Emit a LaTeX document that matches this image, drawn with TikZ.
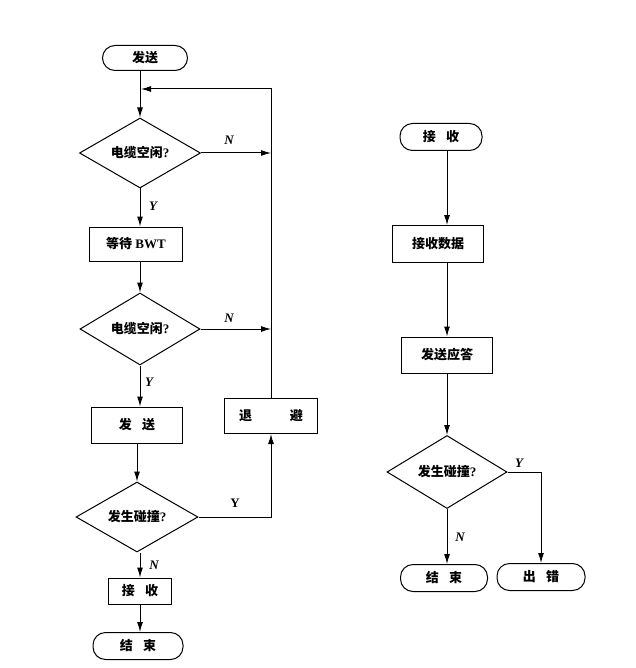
\documentclass[tikz,border=0pt]{standalone}
\usepackage{fontspec}
\setmainfont{Liberation Serif}
\newfontfamily\cjk{Noto Sans CJK SC}
\usetikzlibrary{shapes.geometric,arrows.meta}
\newcommand{\zh}[1]{{\cjk\bfseries #1}}
\begin{document}
\begin{tikzpicture}[x=1pt,y=-1pt,
  every node/.style={font=\fontsize{13}{15}\selectfont\bfseries},
  term/.style={draw,line width=1pt,rounded corners=12.5pt,inner sep=0pt},
  proc/.style={draw,line width=1pt,inner sep=0pt},
  dec/.style={draw,line width=1pt,diamond,aspect=1.7,inner sep=0pt},
  flow/.style={line width=1pt,-{Latex[length=10pt,width=6pt]}},
  lab/.style={font=\fontsize{13}{15}\selectfont\bfseries\itshape,inner sep=0pt},
  labu/.style={font=\fontsize{13}{15}\selectfont\bfseries,inner sep=0pt}]
\useasboundingbox (0,0) rectangle (635,668);
% left column
\node[term,minimum width=85pt,minimum height=25pt] (sstart) at (145,58) {\zh{发送}};
\node[dec,minimum width=121pt,minimum height=70pt] (d1) at (140,153) {\zh{电缆空闲}?};
\node[proc,minimum width=93pt,minimum height=34pt] (wait) at (136,244) {\zh{等待} BWT};
\node[dec,minimum width=120pt,minimum height=72pt] (d2) at (140,329) {\zh{电缆空闲}?};
\node[proc,minimum width=91pt,minimum height=36pt] (send) at (137,425) {\zh{发\hspace{0.8em}送}};
\node[proc,minimum width=93pt,minimum height=35pt] (back) at (271,416) {\zh{退\hspace{2.9em}避}};
\node[dec,minimum width=122pt,minimum height=70pt] (d3) at (137,517) {\zh{发生碰撞}?};
\node[proc,minimum width=63pt,minimum height=26pt] (recv) at (140,591) {\zh{接\hspace{0.8em}收}};
\node[term,minimum width=90pt,minimum height=27pt] (lend) at (138,646) {\zh{结\hspace{0.8em}束}};
\coordinate (top) at (141,89);
% right column
\node[term,minimum width=82pt,minimum height=27pt] (rstart) at (441,137) {\zh{接\hspace{0.8em}收}};
\node[proc,minimum width=91pt,minimum height=37pt] (rdata) at (438,244) {\zh{接收数据}};
\node[proc,minimum width=91pt,minimum height=36pt] (rack) at (447,355) {\zh{发送应答}};
\node[dec,minimum width=120pt,minimum height=73pt] (d4) at (447,472) {\zh{发生碰撞}?};
\node[term,minimum width=87pt,minimum height=27pt] (rend) at (444,578) {\zh{结\hspace{0.8em}束}};
\node[term,minimum width=88pt,minimum height=27pt] (err) at (541,577) {\zh{出\hspace{0.8em}错}};
% connectors left
\draw[flow] (sstart.south -| d1.north) -- (d1.north);
\draw[flow] (d1.south) -- (d1.south |- wait.north);
\draw[flow] (wait.south -| d2.north) -- (d2.north);
\draw[flow] (d2.south) -- (d2.south |- send.north);
\draw[flow] (send.south -| d3.north) -- (d3.north);
\draw[flow] (d3.south -| recv.north) -- (recv.north);
\draw[flow] (recv.south) -- (recv.south |- lend.north);
\draw[flow] (back.north) -- (back.north |- top) -- (top);
\draw[flow] (d1.east) -- (d1.east -| back.north);
\draw[flow] (d2.east) -- (d2.east -| back.north);
\draw[flow] (d3.east) -- (d3.east -| back.south) -- (back.south);
% connectors right
\draw[flow] (rstart.south -| rack) -- (rdata.north -| rack);
\draw[flow] (rdata.south -| rack) -- (rack.north);
\draw[flow] (rack.south) -- (d4.north);
\draw[flow] (d4.south) -- (d4.south |- rend.north);
\draw[flow] (d4.east) -- (d4.east -| err.north) -- (err.north);
% labels
\node[lab] (ln1) at (229,140) {N};
\node[lab] (ly1) at (153,206) {Y};
\node[lab] (ln2) at (229,318) {N};
\node[lab] (ly2) at (149,382) {Y};
\node[labu] (ly3) at (235,503) {Y};
\node[lab] (ln3) at (154,565) {N};
\node[lab] (ln4) at (460,537) {N};
\node[lab] (ly4) at (519,463) {Y};
\end{tikzpicture}
\end{document}
